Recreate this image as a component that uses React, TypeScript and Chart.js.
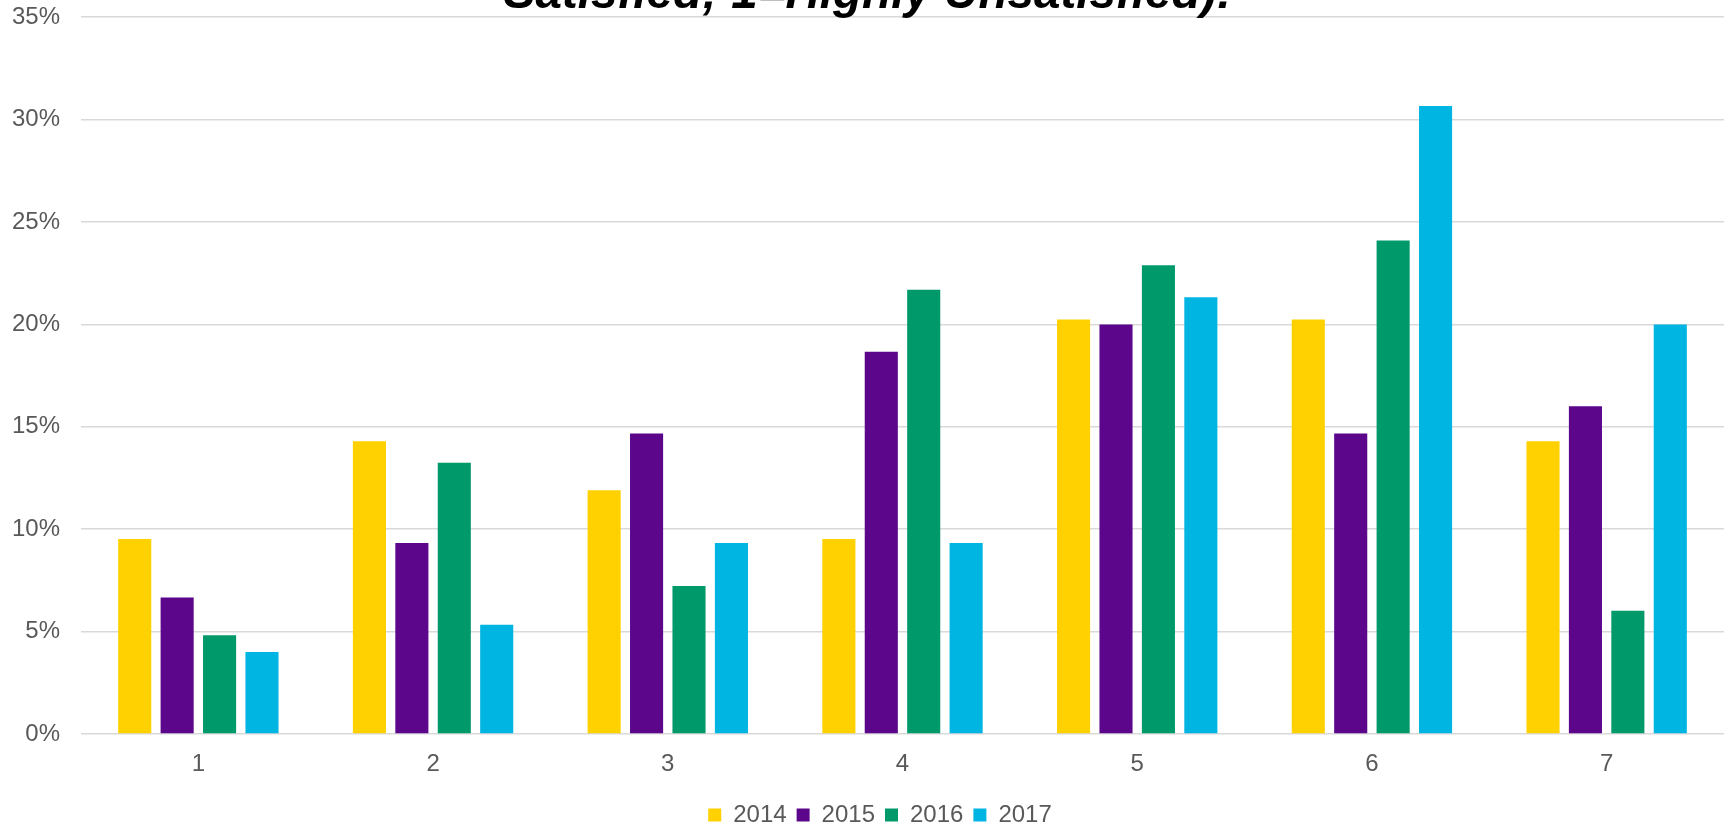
import React, { useEffect, useRef } from "react";
import { Chart, registerables } from "chart.js";

Chart.register(...registerables);

const categories = ["1", "2", "3", "4", "5", "6", "7"];
const years = ["2014", "2015", "2016", "2017"];
const values2014 = [9.52, 14.29, 11.9, 9.52, 20.24, 20.24, 14.29];
const values2015 = [6.67, 9.33, 14.67, 18.67, 20.0, 14.67, 16.0];
const values2016 = [4.82, 13.25, 7.23, 21.69, 22.89, 24.1, 6.02];
const values2017 = [4.0, 5.33, 9.33, 9.33, 21.33, 30.67, 20.0];
const seriesColors = ["#FFD100", "#5C068C", "#00996A", "#00B5E2"];
const titleText = "Satisfied; 1=Highly Unsatisfied):";
const yTicks = [0, 5, 10, 15, 20, 25, 30, 35];

const SHIFT_TOP = 28;
const CANVAS_H = 865;
const LEGEND_DX = 12;

const legendShift = {
  id: "legendShift",
  afterLayout(chart: any) {
    if (chart.legend) {
      chart.legend.left += LEGEND_DX;
      chart.legend.right += LEGEND_DX;
    }
  },
};

export default function App() {
  const ref = useRef<HTMLCanvasElement | null>(null);

  useEffect(() => {
    if (!ref.current) return;
    const font = "'Liberation Sans', Arial, Helvetica, sans-serif";
    const allValues = [values2014, values2015, values2016, values2017];
    const chart = new Chart(ref.current, {
      type: "bar",
      data: {
        labels: categories,
        datasets: years.map((y, i) => ({
          label: y,
          data: allValues[i],
          backgroundColor: seriesColors[i],
          borderWidth: 0,
          categoryPercentage: 0.723,
          barPercentage: 0.78,
        })),
      },
      options: {
        responsive: false,
        animation: false,
        devicePixelRatio: 1,
        layout: { padding: { left: 12, right: 3, top: 0, bottom: 0 } },
        plugins: {
          title: {
            display: true,
            text: titleText,
            color: "#000000",
            font: { family: font, size: 47.6, weight: "bold", style: "italic", lineHeight: 0.95 },
            padding: { top: 0, bottom: 0 },
          },
          legend: {
            position: "bottom",
            labels: {
              boxWidth: 13,
              boxHeight: 13,
              padding: 10,
              color: "#595959",
              font: { family: font, size: 24 },
            },
          },
          tooltip: { enabled: false },
        },
        scales: {
          x: {
            grid: { display: false, drawTicks: false },
            border: { display: false },
            ticks: {
              color: "#595959",
              font: { family: font, size: 24 },
              padding: 15.6,
            },
            afterFit: (scale: any) => {
              scale.height = 59;
            },
          },
          y: {
            min: 0,
            max: 35,
            afterBuildTicks: (scale: any) => {
              scale.ticks = yTicks.map((v) => ({ value: v }));
            },
            grid: { color: "#d9d9d9", lineWidth: 1.6, drawTicks: false },
            border: { display: false },
            ticks: {
              color: "#595959",
              font: { family: font, size: 24 },
              padding: 21,
              callback: (v: any) => v + "%",
            },
            afterFit: (scale: any) => {
              scale.width = 69;
            },
          },
        },
      },
      plugins: [legendShift],
    });
    return () => chart.destroy();
  }, []);

  return (
    <div
      style={{
        position: "fixed",
        left: 0,
        top: 0,
        width: 1727,
        height: 826,
        overflow: "hidden",
        background: "#ffffff",
      }}
    >
      <canvas
        ref={ref}
        width={1727}
        height={CANVAS_H}
        style={{ position: "absolute", left: 0, top: -SHIFT_TOP, display: "block" }}
      />
    </div>
  );
}
